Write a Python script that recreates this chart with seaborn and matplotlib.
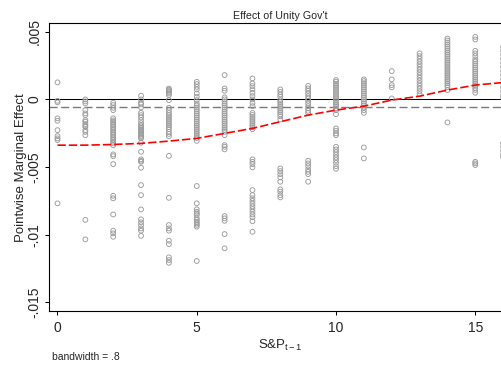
"""Pointwise marginal effect of unity government across S&P levels (Stata-style lowess plot)."""

import matplotlib

matplotlib.use("Agg")

import matplotlib.pyplot as plt
import seaborn as sns
import pandas as pd

# Pointwise marginal effects per S&P(t-1) level, in units of 0.001
e0 = [1.26, -0.10, -0.22, -1.40, -1.58, -2.27, -2.71, -2.88, -3.00, -7.68]
e1 = [0.00, -0.15, -0.30, -0.79, -1.03, -1.16, -1.53, -1.65, -1.82, -1.97,
      -2.02, -2.27, -2.40, -2.64, -8.90, -10.34]
e2 = [-0.25, -0.42, -0.62, -0.79, -1.40, -1.55, -1.65, -1.80, -1.90, -2.02,
      -2.14, -2.27, -2.40, -2.52, -2.64, -2.76, -2.88, -3.00, -3.13, -3.25,
      -3.38, -4.06, -4.19, -4.78, -7.12, -7.31, -8.50, -9.70, -9.90, -10.15]
e3 = [0.27, 0.00, -0.25, -0.37, -0.59, -0.99, -1.16, -1.33, -1.53, -1.75,
      -1.90, -2.00, -2.10, -2.20, -2.30, -2.40, -2.50, -2.60, -2.70, -2.80,
      -2.88, -3.20, -3.87, -4.43, -4.53, -4.61, -5.05, -6.33, -7.07, -8.13,
      -8.86, -9.08, -9.29, -9.53, -9.70, -10.08]
e4 = [0.80, 0.72, 0.65, 0.55, 0.44, 0.32, -0.05, -0.62, -0.80, -1.00, -1.16,
      -1.30, -1.45, -1.60, -1.75, -1.90, -2.05, -2.20, -2.40, -2.55, -2.72,
      -4.17, -7.27, -9.28, -9.53, -9.70, -10.44, -10.69, -11.67, -11.87, -12.07]
e5 = [1.30, 1.13, 0.93, 0.74, 0.44, 0.19, -0.05, -0.30, -0.45, -0.60, -0.75,
      -0.90, -1.05, -1.20, -1.35, -1.50, -1.65, -1.80, -1.95, -2.10, -2.25,
      -2.40, -2.55, -2.70, -2.85, -3.06, -6.40, -7.68, -8.12, -8.30, -8.42,
      -8.55, -8.79, -8.91, -9.04, -9.16, -9.27, -9.40, -11.94]
e6 = [1.80, 0.81, 0.64, 0.15, 0.00, -0.15, -0.30, -0.45, -0.60, -0.75, -0.90,
      -1.05, -1.20, -1.35, -1.50, -1.65, -1.80, -1.95, -2.10, -2.25, -2.40,
      -2.64, -3.38, -3.50, -3.69, -8.62, -8.79, -8.97, -9.95, -11.00]
e7 = [1.55, 1.18, 0.98, 0.74, 0.49, 0.24, 0.00, -0.25, -0.50, -1.00, -1.15,
      -1.30, -1.45, -1.60, -1.75, -1.90, -2.05, -2.20, -4.43, -4.61, -4.78,
      -5.02, -6.70, -7.07, -7.30, -7.50, -7.70, -7.90, -8.10, -8.30, -8.50,
      -8.70, -9.00, -9.78]
e8 = [0.74, 0.56, 0.37, 0.19, -0.05, -0.20, -0.35, -0.50, -0.65, -0.80, -0.95,
      -1.10, -1.25, -1.48, -5.10, -5.30, -5.52, -5.76, -6.08, -6.65, -6.82,
      -7.07, -7.24]
e9 = [1.00, 0.81, 0.64, 0.44, 0.24, 0.07, -0.10, -0.30, -0.50, -0.66, -0.84,
      -0.99, -4.53, -4.73, -4.93, -5.17, -5.35, -5.52, -6.08]
e10 = [1.43, 1.30, 1.15, 1.00, 0.85, 0.70, 0.55, 0.40, 0.25, 0.10, -0.05,
       -0.20, -0.35, -0.50, -0.65, -0.79, -1.09, -2.14, -2.32, -2.51, -2.64,
       -3.50, -3.70, -3.89, -4.09, -4.29, -4.48, -4.68, -4.93, -5.12]
e11 = [1.48, 1.35, 1.20, 1.05, 0.90, 0.75, 0.60, 0.45, 0.30, 0.15, 0.00,
       -0.15, -0.30, -0.45, -0.60, -0.79, -0.99, -3.55, -4.36]
e12 = [2.09, 1.48, 1.06, 0.89, 0.07]
e13 = [3.40, 3.20, 3.00, 2.80, 2.60, 2.40, 2.20, 2.00, 1.80, 1.60, 1.40,
       1.20, 1.00, 0.80, 0.60, 0.39]
e14 = [4.50, 4.35, 4.20, 4.05, 3.90, 3.75, 3.60, 3.45, 3.30, 3.15, 3.00,
       2.85, 2.70, 2.55, 2.40, 2.25, 2.10, 1.95, 1.80, 1.65, 1.50, 1.35,
       1.20, 1.05, 0.90, 0.69, -1.70]
e15 = [4.62, 4.43, 3.59, 3.40, 3.20, 2.95, 2.80, 2.65, 2.50, 2.35, 2.20,
       2.05, 1.90, 1.75, 1.60, 1.45, 1.30, 1.15, 1.00, 0.85, 0.70, 0.49,
       -4.61, -4.73, -4.85]
e16 = [3.88, 3.60, 3.30, 3.00, 2.70, 2.40, 2.10, 1.80, 1.50, 1.20, 0.90,
       0.60, 0.30, 0.10, -3.23, -3.50, -3.80, -4.05, -4.26]

# lowess fit (bandwidth .8), units of 0.001
lowess_x = [0, 1, 2, 3, 4, 5, 6, 7, 8, 9, 10, 11, 12, 13, 14, 15, 16]
lowess_y = [-3.38, -3.38, -3.33, -3.25, -3.08, -2.88, -2.51, -2.14, -1.65,
            -1.16, -0.79, -0.50, -0.05, 0.24, 0.69, 1.06, 1.25]

mean_effect = -0.55  # average marginal effect, units of 0.001

y_ticks = [0.005, 0, -0.005, -0.01, -0.015]
y_ticklabels = [".005", "0", "-.005", "-.01", "-.015"]
x_ticks = [0, 5, 10, 15]

columns = [e0, e1, e2, e3, e4, e5, e6, e7, e8, e9, e10, e11, e12, e13, e14, e15, e16]
df = pd.DataFrame(
    [(lvl, v / 1000) for lvl, vals in enumerate(columns) for v in vals],
    columns=["sp", "effect"],
)
fit = pd.DataFrame({"sp": lowess_x, "effect": [v / 1000 for v in lowess_y]})

sns.set_theme(style="ticks")
plt.rcParams["font.family"] = ["Liberation Sans", "DejaVu Sans"]
plt.rcParams["mathtext.fontset"] = "custom"
plt.rcParams["mathtext.rm"] = "Liberation Sans"
plt.rcParams["mathtext.it"] = "Liberation Sans:italic"

fig = plt.figure(figsize=(5.01, 3.65), dpi=100)
# plot region runs past the right edge of the canvas, as in the reference crop
ax = fig.add_axes([0.0978, 0.1466, 0.922, 0.790])

ax.axhline(0, color="black", lw=0.75, zorder=1)
ax.axhline(mean_effect / 1000, color="#7a7a7a", lw=1.0,
           linestyle=(0, (5.8, 2.6)), zorder=1)

sns.scatterplot(data=df, x="sp", y="effect", ax=ax, marker="o",
                facecolors="none", edgecolor="#9c9c9c", s=12, linewidth=0.65,
                zorder=2, legend=False)
sns.lineplot(data=fit, x="sp", y="effect", ax=ax, color="#ff0000", lw=1.2,
             linestyle=(0, (5.0, 1.8)), zorder=3, legend=False)

ax.set_xlim(-0.305, 16.28)
ax.set_ylim(-0.01567, 0.005636)
ax.set_xticks(x_ticks)
ax.set_xticklabels([str(t) for t in x_ticks], fontsize=10)
ax.set_yticks(y_ticks)
ax.set_yticklabels(y_ticklabels, rotation=90, va="center", fontsize=10)
ax.tick_params(axis="x", length=3.2, width=0.75, color="black", pad=4)
ax.tick_params(axis="y", length=3.2, width=0.75, color="black", pad=2)

for side in ["left", "bottom", "top", "right"]:
    ax.spines[side].set_visible(True)
    ax.spines[side].set_color("black")
    ax.spines[side].set_linewidth(0.8)

ax.set_title("Effect of Unity Gov't", fontsize=7.7, pad=3)
ax.set_xlabel(r"S&P$_{\mathrm{t-1}}$", fontsize=9.5, labelpad=2)
ax.set_ylabel("Pointwise Marginal Effect", fontsize=9.5)
ax.yaxis.set_label_coords(-0.048, 0.5)

fig.text(52 / 501, 1 - 357 / 365, "bandwidth = .8", fontsize=7.5,
         ha="left", va="center")

fig.savefig("out.png", dpi=100)
plt.close(fig)
